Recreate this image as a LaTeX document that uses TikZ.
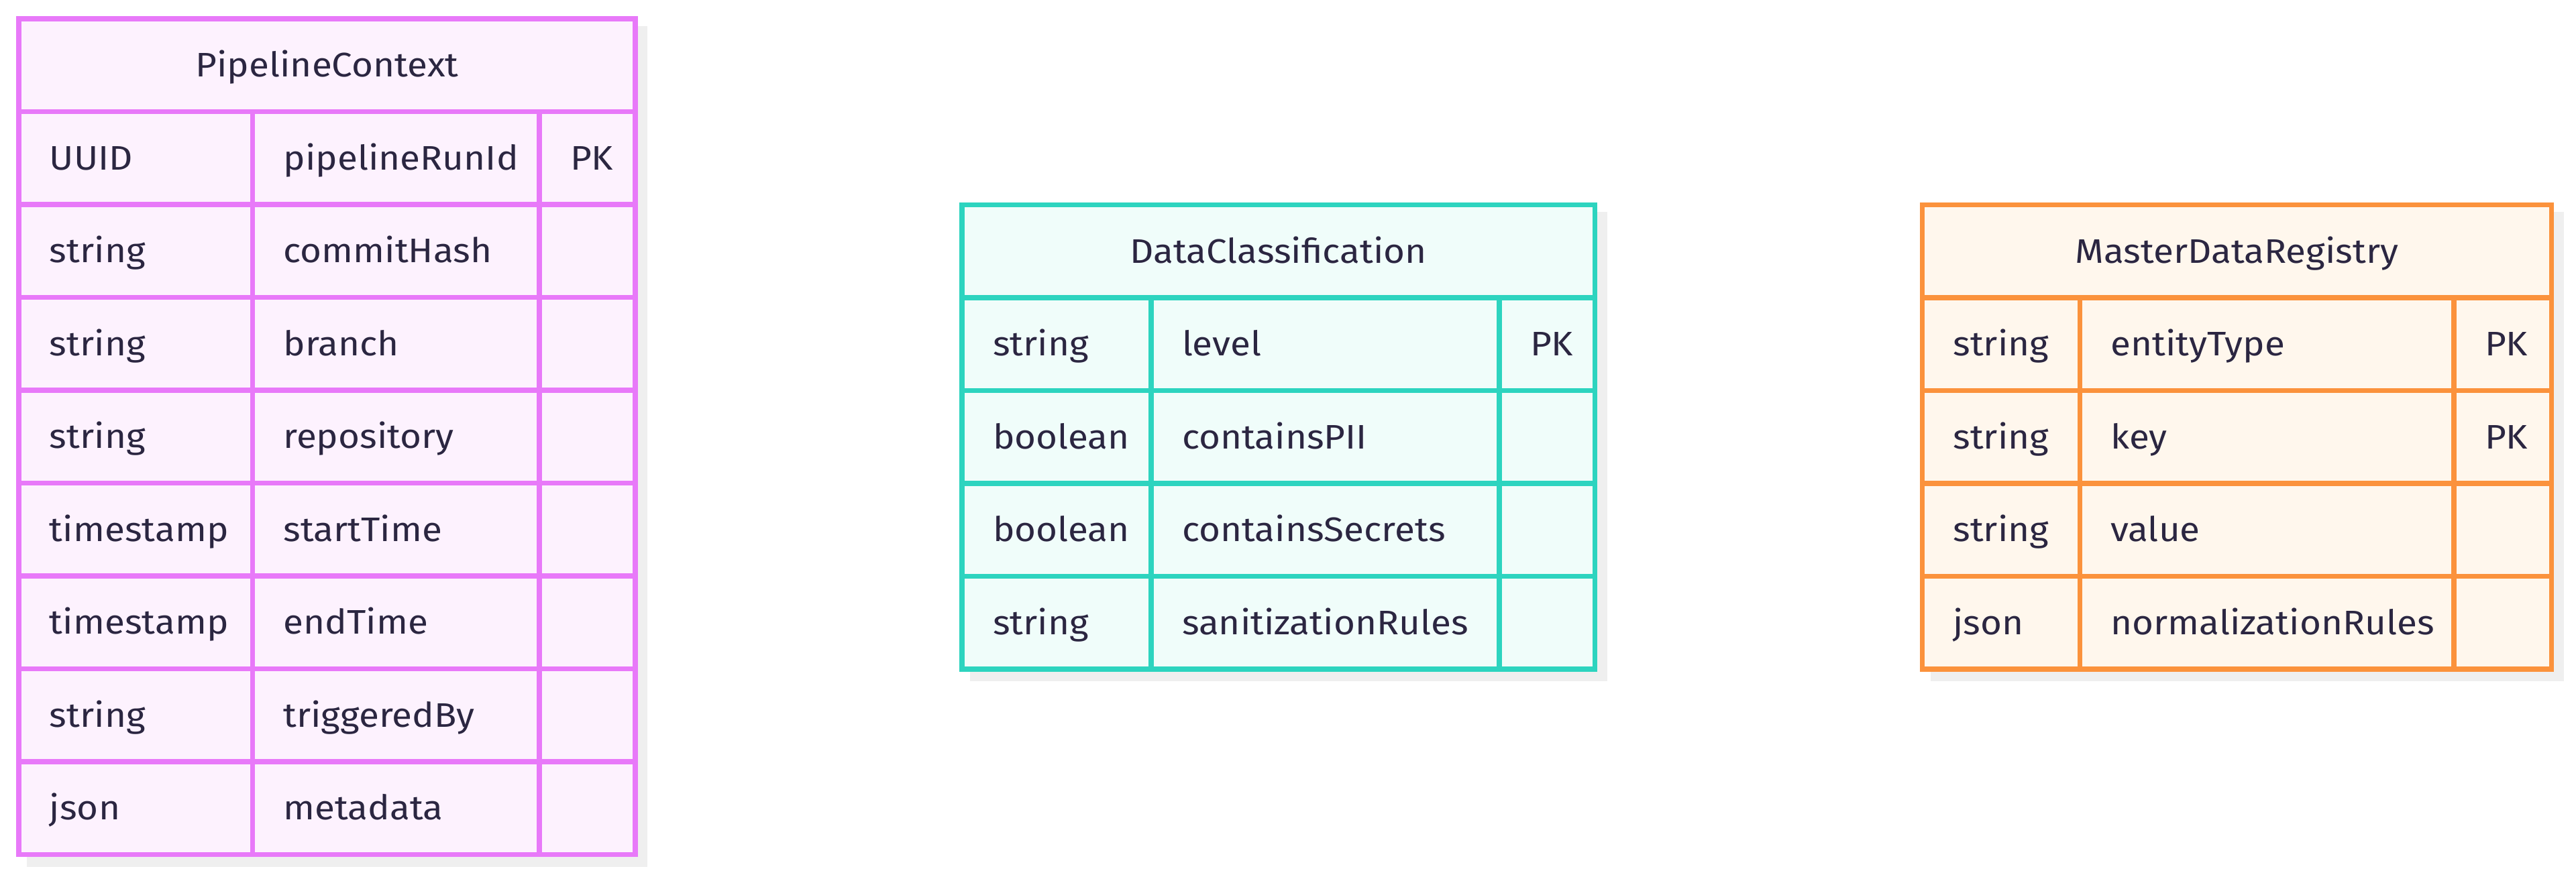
\documentclass[tikz,border=0pt]{standalone}
\usepackage{fontspec}
\setmainfont[FakeStretch=1.08]{Fira Sans}
\usetikzlibrary{matrix,positioning,backgrounds}
\definecolor{ink}{HTML}{2B2641}
\definecolor{pinkline}{HTML}{E879F9}
\definecolor{pinkfill}{HTML}{FDF2FE}
\definecolor{tealline}{HTML}{2DD4BF}
\definecolor{tealfill}{HTML}{F0FDFA}
\definecolor{orangeline}{HTML}{FB923C}
\definecolor{orangefill}{HTML}{FFF7ED}
\definecolor{shade}{HTML}{EFEFEF}
\newcommand{\cellfont}{\fontsize{12.7}{15}\selectfont}
\tikzset{cellbox/.style={
    rectangle,
    draw,
    line width=1.8pt,
    outer sep=0pt,
    inner xsep=11.5pt,
    inner ysep=0pt,
    minimum height=34.625pt,
    text height=8.75pt,
    text depth=0pt,
    text=ink,
    font=\cellfont
  },
  headbox/.style={cellbox,align=center},
  rowbox/.style={cellbox,align=left},
  pinkbox/.style={draw=pinkline,fill=pinkfill},
  tealbox/.style={draw=tealline,fill=tealfill},
  orangebox/.style={draw=orangeline,fill=orangefill},
  rowmat/.style={
    matrix of nodes,
    nodes in empty cells,
    inner sep=0pt,
    outer sep=0pt,
    column sep=-1.8pt,
    row sep=-1.8pt,
    ampersand replacement=\&
  },
  shadebox/.style={fill=shade},
}

\begin{document}
\begin{tikzpicture}
  \useasboundingbox (0,0) rectangle (960pt,326.75pt);
  % PipelineContext
  \node[headbox,pinkbox,minimum width=229.75pt,anchor=north west] (pipeline) at (7pt,319.75pt) {PipelineContext};
  \matrix[rowmat,below=-0.9pt of pipeline,nodes={rowbox,pinkbox},
    column 1/.style={nodes={text width=64.125pt}},
    column 2/.style={nodes={text width=83.875pt}},
    column 3/.style={nodes={text width=12.75pt}}] (pipelinerows) {
    UUID \& pipelineRunId \& PK \\
    string \& commitHash \& \\
    string \& branch \& \\
    string \& repository \& \\
    timestamp \& startTime \& \\
    timestamp \& endTime \& \\
    string \& triggeredBy \& \\
    json \& metadata \& \\
  };
  % DataClassification
  \node[headbox,tealbox,minimum width=235.875pt,anchor=north west] (classification) at (358.5pt,250.375pt) {DataClassification};
  \matrix[rowmat,below=-0.9pt of classification,nodes={rowbox,tealbox},
    column 1/.style={nodes={text width=47.5pt}},
    column 2/.style={nodes={text width=106.75pt}},
    column 3/.style={nodes={text width=12.625pt}}] (classificationrows) {
    string \& level \& PK \\
    boolean \& containsPII \& \\
    boolean \& containsSecrets \& \\
    string \& sanitizationRules \& \\
  };
  % MasterDataRegistry
  \node[headbox,orangebox,minimum width=234.5pt,anchor=north west] (registry) at (716.375pt,250.375pt) {MasterDataRegistry};
  \matrix[rowmat,below=-0.9pt of registry,nodes={rowbox,orangebox},
    column 1/.style={nodes={text width=35.75pt}},
    column 2/.style={nodes={text width=116.375pt}},
    column 3/.style={nodes={text width=13.375pt}}] (registryrows) {
    string \& entityType \& PK \\
    string \& key \& PK \\
    string \& value \& \\
    json \& normalizationRules \& \\
  };
  % shadows
  \begin{scope}[on background layer]
    \fill[shadebox] ([xshift=3pt,yshift=-2.75pt]pipeline.north west) rectangle ([xshift=3.6pt,yshift=-3.6pt]pipelinerows.south east);
    \fill[shadebox] ([xshift=3pt,yshift=-2.75pt]classification.north west) rectangle ([xshift=3.6pt,yshift=-3.6pt]classificationrows.south east);
    \fill[shadebox] ([xshift=3pt,yshift=-2.75pt]registry.north west) rectangle ([xshift=3.6pt,yshift=-3.6pt]registryrows.south east);
  \end{scope}
\end{tikzpicture}
\end{document}
